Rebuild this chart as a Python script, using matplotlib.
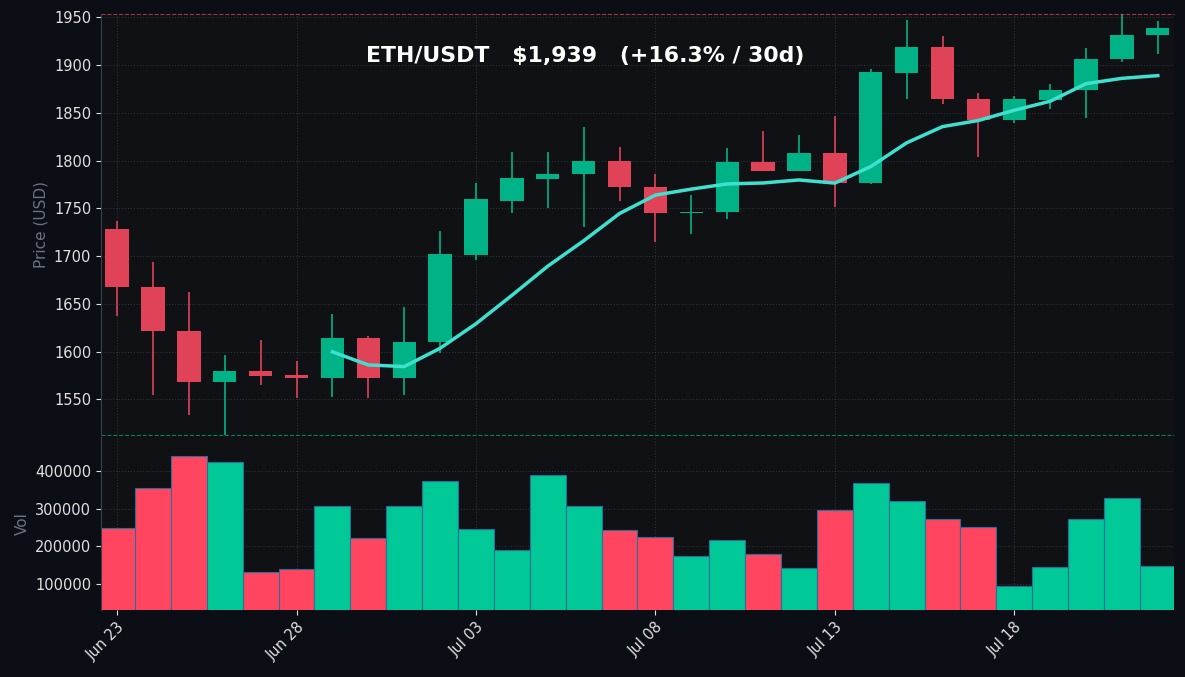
import numpy as np
import pandas as pd
import matplotlib
matplotlib.use('Agg')
import matplotlib.pyplot as plt
import matplotlib.dates as mdates

dates = pd.date_range('2023-06-23', periods=30, freq='D')
opens = [1728, 1668, 1622, 1568, 1580, 1575, 1572, 1614, 1572, 1610,
         1701, 1758, 1781, 1786, 1800, 1772, 1745, 1746, 1798, 1789,
         1808, 1777, 1892, 1919, 1865, 1843, 1863, 1874, 1906, 1932]
closes = [1668, 1622, 1568, 1580, 1574, 1572, 1614, 1572, 1610, 1702,
          1760, 1782, 1786, 1800, 1772, 1745, 1746, 1798, 1789, 1808,
          1777, 1893, 1919, 1865, 1843, 1864, 1874, 1906, 1932, 1939]
highs = [1737, 1694, 1662, 1596, 1612, 1590, 1639, 1616, 1647, 1726,
         1777, 1809, 1809, 1835, 1814, 1786, 1764, 1813, 1831, 1827,
         1847, 1896, 1947, 1930, 1871, 1868, 1880, 1918, 1954, 1946]
lows = [1637, 1554, 1534, 1513, 1565, 1551, 1552, 1551, 1554, 1598,
        1696, 1745, 1750, 1730, 1758, 1715, 1723, 1739, 1789, 1789,
        1751, 1775, 1865, 1859, 1804, 1839, 1854, 1845, 1903, 1912]
volumes = [248000, 355000, 441000, 425000, 131000, 140000, 309000, 223000, 307000, 374000,
           247000, 191000, 390000, 307000, 244000, 225000, 175000, 217000, 179000, 143000,
           297000, 369000, 321000, 273000, 253000, 95000, 145000, 273000, 329000, 148000]

BG = '#0b0e14'
AX_BG = '#0f1115'
UP = '#00b386'
DOWN = '#e04358'
VUP = '#00c896'
VDOWN = '#ff4560'

x = mdates.date2num(dates)
o = np.array(opens); c = np.array(closes)
h = np.array(highs); l = np.array(lows)
up = c >= o
ma = pd.Series(closes).rolling(7).mean()

fig = plt.figure(figsize=(11.85, 6.77), dpi=100, facecolor=BG)
ax = fig.add_axes([0.0852, 0.358, 0.9055, 0.622])
axv = fig.add_axes([0.0852, 0.099, 0.9055, 0.256], sharex=ax)

for a in (ax, axv):
    a.set_facecolor(AX_BG)
    a.set_axisbelow(True)
    a.grid(True, color='#3a3f4a', linestyle=':', linewidth=0.8, alpha=0.7)
    for s in ('top', 'right', 'bottom'):
        a.spines[s].set_visible(False)
    a.spines['left'].set_color('#3a3f4a')
    a.tick_params(colors='#e0e0e0', labelsize=10.5)

# wicks and bodies
cols = np.where(up, UP, DOWN)
ax.vlines(x, l, h, colors=cols, linewidth=1.2, zorder=2)
body_lo = np.minimum(o, c)
body_h = np.maximum(np.abs(c - o), 1.5)
ax.bar(x, body_h, bottom=body_lo, width=0.65, color=cols, zorder=3)
ax.plot(x, ma, color='#40e0d0', linewidth=2.5, zorder=4)

ax.axhline(max(highs), color='#e04358', linestyle='--', linewidth=0.8, alpha=0.7, clip_on=False)
ax.axhline(min(lows), color='#00b386', linestyle='--', linewidth=0.8, alpha=0.7, clip_on=False)
ax.set_ylim(min(lows), max(highs))
ax.set_ylabel('Price (USD)', color='#6b7280', fontsize=11)
ax.tick_params(axis='x', labelbottom=False, length=0)

ax.text(0.451, 0.9, f'ETH/USDT   ${closes[-1]:,}   (+16.3% / 30d)', transform=ax.transAxes,
        ha='center', va='center', color='white', fontsize=15.8, fontweight='bold')

vcols = np.where(up, VUP, VDOWN)
axv.bar(x, volumes, width=1.0, color=vcols, edgecolor='#2a6f9a', linewidth=0.8)
axv.set_ylim(30000, 493000)
axv.set_yticks([100000, 200000, 300000, 400000])
axv.set_ylabel('Vol', color='#6b7280', fontsize=11)
axv.set_xlim(x[0] - 0.45, x[-1] + 0.45)
axv.xaxis.set_major_locator(mdates.DayLocator(bymonthday=[3, 8, 13, 18, 23, 28]))
axv.xaxis.set_major_formatter(mdates.DateFormatter('%b %d'))
plt.setp(axv.get_xticklabels(), rotation=45, ha='right', rotation_mode='anchor')

fig.savefig('out.png', dpi=100, facecolor=BG)
